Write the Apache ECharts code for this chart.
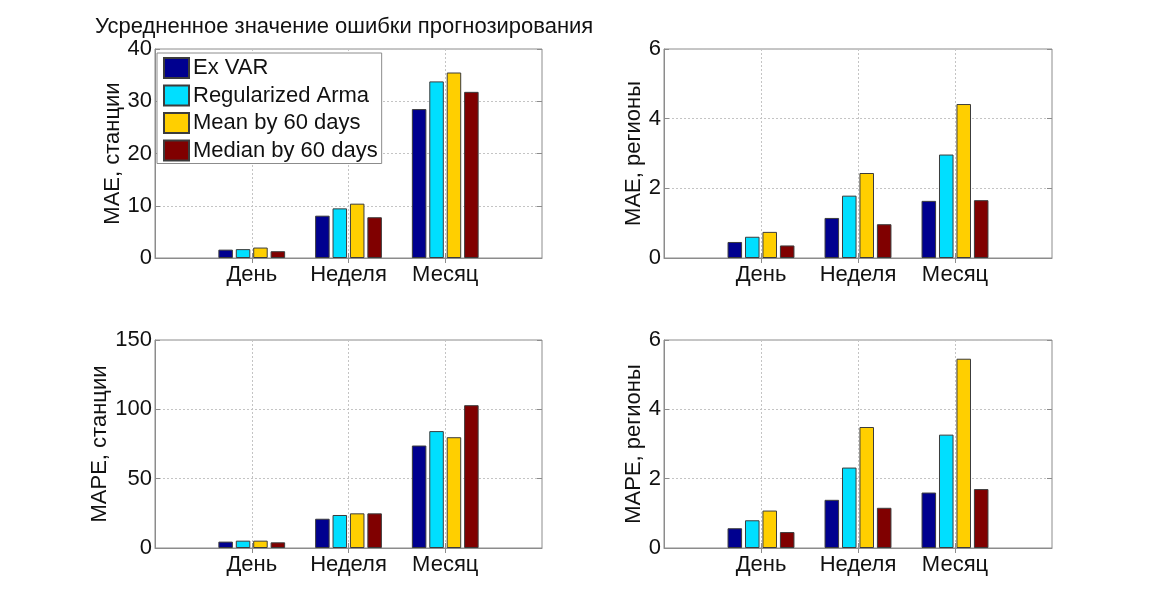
<!DOCTYPE html>
<html>
<head>
<meta charset="utf-8">
<script src="https://cdn.jsdelivr.net/npm/echarts@6/dist/echarts.min.js"></script>
<style>
html,body{margin:0;padding:0;background:#fff;}
#chart{width:1151px;height:610px;}
</style>
</head>
<body>
<div id="chart"></div>
<script>
// ---- data ----
const titleText = 'Усредненное значение ошибки прогнозирования';
const categories = ['День', 'Неделя', 'Месяц'];
const seriesNames = ['Ex VAR', 'Regularized Arma', 'Mean by 60 days', 'Median by 60 days'];
const seriesColors = ['#00008F', '#00DFFF', '#FFCF00', '#800000'];

// rows: Ex VAR, Regularized Arma, Mean by 60 days, Median by 60 days ; cols: День, Неделя, Месяц
const maeStations = [
  [1.6, 8.1, 28.5],
  [1.7, 9.5, 33.8],
  [2.0, 10.4, 35.5],
  [1.3, 7.8, 31.8]
];
const maeRegions = [
  [0.46, 1.15, 1.64],
  [0.61, 1.79, 2.97],
  [0.75, 2.44, 4.42],
  [0.36, 0.97, 1.66]
];
const mapeStations = [
  [4.6, 21.1, 73.9],
  [5.3, 23.8, 84.3],
  [5.3, 25.0, 79.9],
  [4.1, 25.0, 103.0]
];
const mapeRegions = [
  [0.57, 1.39, 1.60],
  [0.80, 2.32, 3.27],
  [1.08, 3.49, 5.46],
  [0.46, 1.16, 1.70]
];
const yNames = ['MAE, станции', 'MAE, регионы', 'MAPE, станции', 'MAPE, регионы'];
const yMax = [40, 6, 150, 6];
const yInterval = [10, 2, 50, 2];
const yTicks = [[0, 10, 20, 30, 40], [0, 2, 4, 6], [0, 50, 100, 150], [0, 2, 4, 6]];

// ---- layout / styles ----
const panels = [maeStations, maeRegions, mapeStations, mapeRegions];
const gridRects = [
  {left: 155, top: 49, width: 387, height: 209},
  {left: 664, top: 49, width: 388, height: 209},
  {left: 155, top: 340, width: 387, height: 208},
  {left: 664, top: 340, width: 388, height: 208}
];
const nameGaps = [31, 19, 44, 19];
const FONT = '"Liberation Sans", Arial, Helvetica, sans-serif';
const FS = 22;
const boxColor = '#8c8c8c';
const txtColor = '#111';
const paddedCats = [''].concat(categories, ['']);
const isCat = (idx, val) => val !== '';

const grid = [], xAxis = [], yAxis = [], series = [];
panels.forEach((panel, p) => {
  grid.push(Object.assign({show: true, borderColor: boxColor, borderWidth: 1, backgroundColor: '#fff', containLabel: false}, gridRects[p]));
  // bottom x axis
  xAxis.push({
    type: 'category', gridIndex: p, data: paddedCats, boundaryGap: false, position: 'bottom',
    axisLine: {show: true, lineStyle: {color: boxColor, width: 1}},
    axisTick: {show: true, inside: true, length: 5, interval: isCat, lineStyle: {color: boxColor}},
    axisLabel: {show: true, interval: isCat, margin: 6, color: txtColor, fontFamily: FONT, fontSize: FS},
    splitLine: {show: true, interval: isCat, lineStyle: {color: '#c4c4c4', type: [2, 2], width: 1}},
    z: 5
  });
  // top mirror x axis
  xAxis.push({
    type: 'category', gridIndex: p, data: paddedCats, boundaryGap: false, position: 'top',
    axisLine: {show: false},
    axisTick: {show: true, inside: true, length: 5, interval: isCat, lineStyle: {color: boxColor}},
    axisLabel: {show: false}, splitLine: {show: false}
  });
  yAxis.push({
    type: 'value', gridIndex: p, min: 0, max: yMax[p], interval: yInterval[p], position: 'left',
    name: yNames[p], nameLocation: 'middle', nameRotate: 90, nameGap: nameGaps[p],
    nameMoveOverlap: false,
    nameTextStyle: {color: txtColor, fontFamily: FONT, fontSize: FS},
    axisLine: {show: true, lineStyle: {color: boxColor, width: 1}},
    axisTick: {show: true, inside: true, length: 5, lineStyle: {color: boxColor}},
    axisLabel: {show: true, margin: 3, color: txtColor, fontFamily: FONT, fontSize: FS,
      formatter: v => (yTicks[p].indexOf(v) >= 0 ? String(v) : '')},
    splitLine: {show: true, lineStyle: {color: '#c4c4c4', type: [2, 2], width: 1}}
  });
  yAxis.push({
    type: 'value', gridIndex: p, min: 0, max: yMax[p], interval: yInterval[p], position: 'right',
    axisLine: {show: false},
    axisTick: {show: true, inside: true, length: 5, lineStyle: {color: boxColor}},
    axisLabel: {show: false}, splitLine: {show: false}
  });
  panel.forEach((vals, s) => {
    series.push({
      type: 'bar', name: seriesNames[s], xAxisIndex: p * 2, yAxisIndex: p * 2,
      data: [null].concat(vals, [null]),
      barWidth: '15%', barGap: '20%',
      itemStyle: {color: seriesColors[s], borderColor: '#3c3c3c', borderWidth: 1},
      emphasis: {disabled: true},
      animation: false
    });
  });
});

const chart = echarts.init(document.getElementById('chart'), null, {renderer: 'canvas'});
chart.setOption({
  backgroundColor: '#fff',
  animation: false,
  title: {
    text: titleText, left: 90, top: 11,
    textStyle: {fontFamily: FONT, fontSize: FS, fontWeight: 'normal', color: txtColor}
  },
  legend: {
    data: seriesNames, orient: 'vertical', left: 157, top: 53,
    icon: 'rect', itemWidth: 25, itemHeight: 20, itemGap: 5.5,
    padding: [4, 4, 2, 6],
    backgroundColor: '#fff', borderColor: boxColor, borderWidth: 1,
    textStyle: {fontFamily: FONT, fontSize: FS, color: txtColor, padding: [0, 0, 0, -1]},
    selectedMode: false, z: 20
  },
  grid: grid, xAxis: xAxis, yAxis: yAxis, series: series
});
</script>
</body>
</html>
